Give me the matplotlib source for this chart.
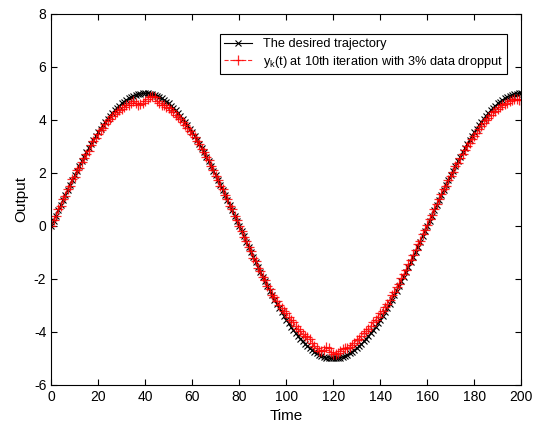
import numpy as np
import matplotlib
matplotlib.use("Agg")
import matplotlib.pyplot as plt

plt.rcParams["font.family"] = ["Liberation Sans", "DejaVu Sans"]
plt.rcParams["mathtext.default"] = "regular"
plt.rcParams["axes.unicode_minus"] = False

time = np.arange(0, 201)

desired = [
    0.00, 0.20, 0.39, 0.59, 0.78, 0.98, 1.17, 1.36, 1.55, 1.73, 1.91,
    2.09, 2.27, 2.44, 2.61, 2.78, 2.94, 3.10, 3.25, 3.39, 3.54,
    3.67, 3.80, 3.93, 4.05, 4.16, 4.26, 4.36, 4.46, 4.54, 4.62,
    4.69, 4.76, 4.81, 4.86, 4.90, 4.94, 4.97, 4.98, 5.00, 5.00,
    5.00, 4.98, 4.97, 4.94, 4.90, 4.86, 4.81, 4.76, 4.69, 4.62,
    4.54, 4.46, 4.36, 4.26, 4.16, 4.05, 3.93, 3.80, 3.67, 3.54,
    3.39, 3.25, 3.10, 2.94, 2.78, 2.61, 2.44, 2.27, 2.09, 1.91,
    1.73, 1.55, 1.36, 1.17, 0.98, 0.78, 0.59, 0.39, 0.20, 0.00,
    -0.20, -0.39, -0.59, -0.78, -0.98, -1.17, -1.36, -1.55, -1.73, -1.91,
    -2.09, -2.27, -2.44, -2.61, -2.78, -2.94, -3.10, -3.25, -3.39, -3.54,
    -3.67, -3.80, -3.93, -4.05, -4.16, -4.26, -4.36, -4.46, -4.54, -4.62,
    -4.69, -4.76, -4.81, -4.86, -4.90, -4.94, -4.97, -4.98, -5.00, -5.00,
    -5.00, -4.98, -4.97, -4.94, -4.90, -4.86, -4.81, -4.76, -4.69, -4.62,
    -4.54, -4.46, -4.36, -4.26, -4.16, -4.05, -3.93, -3.80, -3.67, -3.54,
    -3.39, -3.25, -3.10, -2.94, -2.78, -2.61, -2.44, -2.27, -2.09, -1.91,
    -1.73, -1.55, -1.36, -1.17, -0.98, -0.78, -0.59, -0.39, -0.20, 0.00,
    0.20, 0.39, 0.59, 0.78, 0.98, 1.17, 1.36, 1.55, 1.73, 1.91,
    2.09, 2.27, 2.44, 2.61, 2.78, 2.94, 3.10, 3.25, 3.39, 3.54,
    3.67, 3.80, 3.93, 4.05, 4.16, 4.26, 4.36, 4.46, 4.54, 4.62,
    4.69, 4.76, 4.81, 4.86, 4.90, 4.94, 4.97, 4.98, 5.00, 5.00,
]

# output at 10th iteration (3% data dropout)
y10 = [
    0.00, 0.22, 0.36, 0.62, 0.75, 1.02, 1.13, 1.40, 1.50, 1.76, 1.86,
    2.12, 2.20, 2.40, 2.55, 2.72, 2.84, 3.05, 3.20, 3.30, 3.48,
    3.62, 3.70, 3.85, 3.95, 4.02, 4.15, 4.22, 4.30, 4.38, 4.42,
    4.48, 4.55, 4.58, 4.65, 4.70, 4.62, 4.58, 4.60, 4.65, 4.72,
    4.80, 4.88, 4.90, 4.85, 4.72, 4.65, 4.58, 4.55, 4.50, 4.45,
    4.38, 4.28, 4.20, 4.10, 4.02, 3.92, 3.80, 3.70, 3.60, 3.45,
    3.35, 3.22, 3.10, 2.90, 2.80, 2.60, 2.48, 2.25, 2.12, 1.88,
    1.75, 1.52, 1.40, 1.15, 1.00, 0.76, 0.62, 0.37, 0.22, -0.02,
    -0.18, -0.42, -0.56, -0.80, -0.95, -1.20, -1.32, -1.58, -1.70, -1.94,
    -2.05, -2.28, -2.38, -2.60, -2.70, -2.85, -3.00, -3.10, -3.22, -3.30,
    -3.42, -3.55, -3.62, -3.78, -3.90, -3.98, -4.08, -4.15, -4.20, -4.28,
    -4.40, -4.52, -4.62, -4.70, -4.72, -4.68, -4.58, -4.62, -4.75, -4.82,
    -4.85, -4.80, -4.72, -4.65, -4.60, -4.62, -4.55, -4.48, -4.40, -4.32,
    -4.25, -4.15, -4.05, -3.95, -3.88, -3.78, -3.62, -3.55, -3.42, -3.30,
    -3.22, -3.05, -2.95, -2.78, -2.62, -2.50, -2.30, -2.18, -1.98, -1.82,
    -1.65, -1.45, -1.30, -1.08, -0.92, -0.70, -0.55, -0.32, -0.15, 0.05,
    0.25, 0.42, 0.62, 0.82, 1.00, 1.20, 1.38, 1.52, 1.75, 1.90,
    2.05, 2.25, 2.38, 2.55, 2.70, 2.85, 3.00, 3.12, 3.28, 3.40,
    3.52, 3.65, 3.78, 3.88, 3.98, 4.08, 4.18, 4.28, 4.35, 4.42,
    4.50, 4.55, 4.60, 4.65, 4.70, 4.75, 4.78, 4.80, 4.76, 4.74,
]

fig = plt.figure(figsize=(5.33, 4.34), dpi=100)
ax = fig.add_axes([0.096, 0.113, 0.882, 0.855])

ax.plot(time, desired, color="black", marker="x", markersize=4, linewidth=0.8,
        markeredgewidth=0.8, label="The desired trajectory")
ax.plot(time, y10, color="red", marker="+", markersize=7, linewidth=0.8,
        linestyle="--", markeredgewidth=0.9, alpha=0.85,
        label=r"y$_k$(t) at 10th iteration with 3% data dropput")

ax.set_xlim(0, 200)
ax.set_ylim(-6, 8)
ax.set_xticks(np.arange(0, 201, 20))
ax.set_yticks(np.arange(-6, 9, 2))
ax.tick_params(direction="in", top=True, right=True, labelsize=10, length=4)
for s in ax.spines.values():
    s.set_linewidth(0.8)
ax.set_xlabel("Time", fontsize=11)
ax.set_ylabel("Output", fontsize=11)

leg = ax.legend(loc="upper right", bbox_to_anchor=(0.970, 0.946),
                borderaxespad=0, fontsize=9.2, fancybox=False, framealpha=1,
                edgecolor="black", handlelength=2.2, labelspacing=0.25,
                borderpad=0.35)
leg.get_frame().set_linewidth(0.8)

fig.savefig("out.png", dpi=100)
